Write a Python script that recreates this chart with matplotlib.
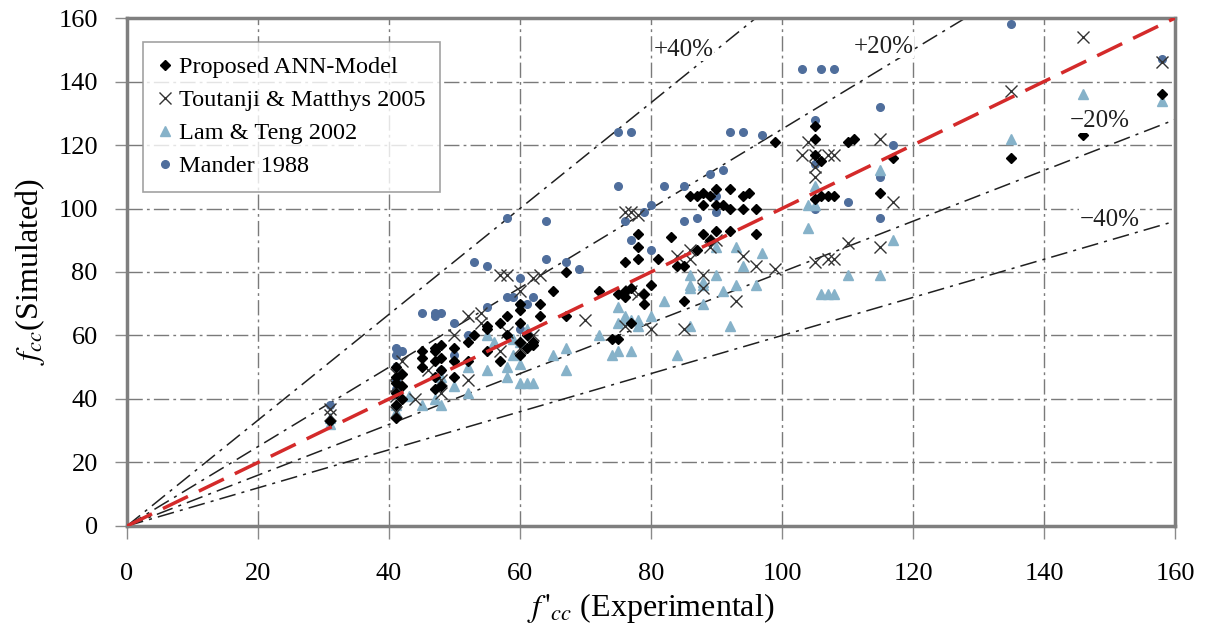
import numpy as np
import matplotlib
matplotlib.use('Agg')
import matplotlib.pyplot as plt

plt.rcParams['font.family'] = ['Liberation Serif', 'DejaVu Serif']
plt.rcParams['mathtext.fontset'] = 'stix'

# Proposed ANN-Model (experimental, simulated)
ann_x = [31, 41, 41, 41, 41, 41, 41, 42, 42, 42, 45, 45, 45, 47, 47, 47, 47, 47,
         48, 48, 48, 48, 50, 50, 50, 52, 52, 53, 55, 55, 55, 57, 57, 58, 58,
         60, 60, 60, 60, 60, 61, 61, 62, 62, 63, 63, 65, 67, 67, 72, 74, 75, 75,
         76, 76, 76, 77, 77, 78, 78, 78, 79, 79, 80, 81, 83, 84, 85, 85, 86,
         87, 87, 88, 88, 88, 89, 89, 90, 90, 90, 91, 92, 92, 92, 94, 94, 95,
         96, 96, 99, 105, 105, 105, 105, 106, 106, 107, 108, 110, 111, 115,
         117, 135, 146, 158]
ann_y = [33, 34, 38, 42, 45, 47, 50, 40, 44, 48, 50, 53, 55, 43, 47, 52, 55, 56,
         44, 49, 53, 57, 47, 52, 56, 52, 58, 60, 55, 62, 63, 64, 52, 66, 60,
         54, 58, 64, 68, 70, 56, 60, 57, 58, 66, 70, 74, 66, 80, 74, 59, 59, 73,
         72, 74, 83, 64, 75, 84, 88, 92, 70, 73, 76, 84, 91, 82, 82, 71, 104,
         104, 87, 101, 105, 92, 104, 90, 106, 101, 93, 101, 106, 100, 93, 100,
         104, 105, 100, 92, 121, 126, 122, 117, 103, 115, 104, 104, 104, 121,
         122, 105, 116, 116, 123, 136]

# Toutanji & Matthys 2005
tm_x = [31, 31, 41, 41, 41, 41, 42, 44, 46, 48, 48, 50, 52, 52, 54, 54, 57, 57,
        58, 58, 60, 60, 62, 62, 63, 70, 76, 76, 77, 77, 78, 78, 80, 84, 85, 86,
        86, 88, 88, 89, 90, 93, 94, 96, 99, 103, 104, 105, 105, 105, 105, 107,
        107, 108, 108, 110, 115, 115, 117, 135, 146, 158]
tm_y = [35, 37, 36, 41, 44, 48, 52, 40, 49, 42, 46, 60, 46, 66, 64, 67, 79, 55,
        79, 61, 56, 74, 78, 60, 79, 65, 99, 63, 74, 99, 98, 73, 62, 85, 62, 84,
        87, 79, 75, 88, 90, 71, 85, 82, 81, 117, 121, 83, 113, 110, 117, 84,
        117, 84, 117, 89, 88, 122, 102, 137, 154, 146]

# Lam & Teng 2002
lt_x = [31, 31, 41, 41, 41, 43, 45, 47, 48, 48, 50, 52, 52, 55, 55, 56, 58, 58,
        59, 59, 60, 60, 60, 61, 61, 62, 65, 67, 67, 72, 74, 75, 75, 75, 76, 76,
        77, 77, 78, 78, 80, 82, 84, 86, 86, 86, 86, 88, 88, 88, 90, 90, 91, 92,
        93, 93, 94, 96, 97, 104, 104, 105, 105, 106, 107, 108, 110, 115, 115,
        117, 135, 146, 158]
lt_y = [32, 34, 36, 38, 42, 41, 38, 40, 38, 47, 44, 42, 50, 49, 60, 58, 47, 50,
        54, 59, 45, 51, 58, 45, 62, 45, 54, 49, 56, 60, 54, 64, 55, 69, 65, 66,
        65, 55, 65, 63, 66, 71, 54, 63, 75, 76, 79, 70, 76, 77, 88, 79, 74, 63,
        76, 88, 82, 76, 86, 94, 101, 101, 107, 73, 73, 73, 79, 79, 112, 90,
        122, 136, 134]

# Mander 1988
md_x = [31, 41, 41, 41, 41, 41, 42, 45, 47, 47, 48, 48, 50, 50, 52, 53, 55, 55,
        58, 58, 59, 60, 60, 60, 61, 62, 64, 64, 67, 69, 75, 75, 76, 77, 77, 79,
        80, 80, 82, 85, 85, 87, 89, 90, 90, 91, 92, 94, 97, 103, 105, 105, 105,
        106, 108, 110, 115, 115, 115, 117, 135, 158]
md_y = [38, 54, 56, 50, 46, 43, 55, 67, 66, 67, 67, 49, 54, 64, 60, 83, 69, 82,
        97, 72, 72, 78, 70, 62, 70, 72, 96, 84, 83, 81, 107, 124, 96, 124, 90,
        99, 87, 101, 107, 107, 96, 97, 111, 104, 99, 112, 124, 124, 123, 144,
        128, 100, 114, 144, 144, 102, 132, 97, 110, 120, 158, 147]

ratios = [1 / 0.6, 1 / 0.8, 0.8, 0.6]
ratio_labels = ['+40%', '+20%', '\u221220%', '\u221240%']
label_pos = [(85, 150), (115.5, 151), (148.5, 127.5), (150, 96.5)]

fig = plt.figure(figsize=(12.06, 6.37), dpi=100)
ax = fig.add_axes([0.1053, 0.1743, 0.869, 0.7974])

ax.set_xlim(0, 160)
ax.set_ylim(0, 160)
ax.set_xticks(np.arange(0, 161, 20))
ax.set_yticks(np.arange(0, 161, 20))
ax.grid(True, color='#7a7a7a', lw=1.0, linestyle=(0, (11, 3, 2, 3)))
ax.set_axisbelow(True)

xx = np.array([0, 160])
for r in ratios:
    ax.plot(xx, r * xx, color='#202020', lw=1.1, linestyle=(0, (11, 4, 2, 4)), zorder=2)
ax.plot(xx, xx, color='#d42a2a', lw=2.5, linestyle=(0, (8, 3.5)), zorder=6)

for (tx, ty), t in zip(label_pos, ratio_labels):
    ax.text(tx, ty, t, fontsize=18, ha='center', va='center', zorder=7,
            color='#202020',
            bbox=dict(facecolor='white', edgecolor='none', pad=0.3))

h_md, = ax.plot(md_x, md_y, 'o', color='#4f6e9c', ms=5.5, mec='#4f6e9c', zorder=3,
                label='Mander 1988')
h_lt, = ax.plot(lt_x, lt_y, '^', color='#86b2c9', ms=7.5, mec='#86b2c9', zorder=3,
                label='Lam & Teng 2002')
h_tm, = ax.plot(tm_x, tm_y, 'x', color='#333333', ms=8.5, mew=1.0, zorder=4,
                label='Toutanji & Matthys 2005')
h_ann, = ax.plot(ann_x, ann_y, 'D', color='black', ms=5.5, zorder=5,
                 label='Proposed ANN-Model')

for s in ax.spines.values():
    s.set_color('#7f7f7f')
    s.set_linewidth(2.5)

ax.tick_params(axis='both', direction='out', length=9, width=1, color='#8a8a8a',
               labelsize=19)
ax.tick_params(axis='x', pad=18)
ax.tick_params(axis='y', pad=12)

ax.set_xlabel(r"$f\,'_{cc}$ (Experimental)", fontsize=23, labelpad=4)
ax.set_ylabel(r"$f_{cc}$(Simulated)", fontsize=23, labelpad=8)

leg = ax.legend(handles=[h_ann, h_tm, h_lt, h_md], loc='upper left',
                bbox_to_anchor=(0.015, 0.953), fontsize=17.5, frameon=True,
                fancybox=False, edgecolor='#8a8a8a', handlelength=0.6,
                handletextpad=0.3, borderpad=0.6, labelspacing=0.45,
                borderaxespad=0)
leg.get_frame().set_linewidth(1.2)
leg.set_zorder(10)

fig.savefig('out.png', dpi=100, facecolor='white')
